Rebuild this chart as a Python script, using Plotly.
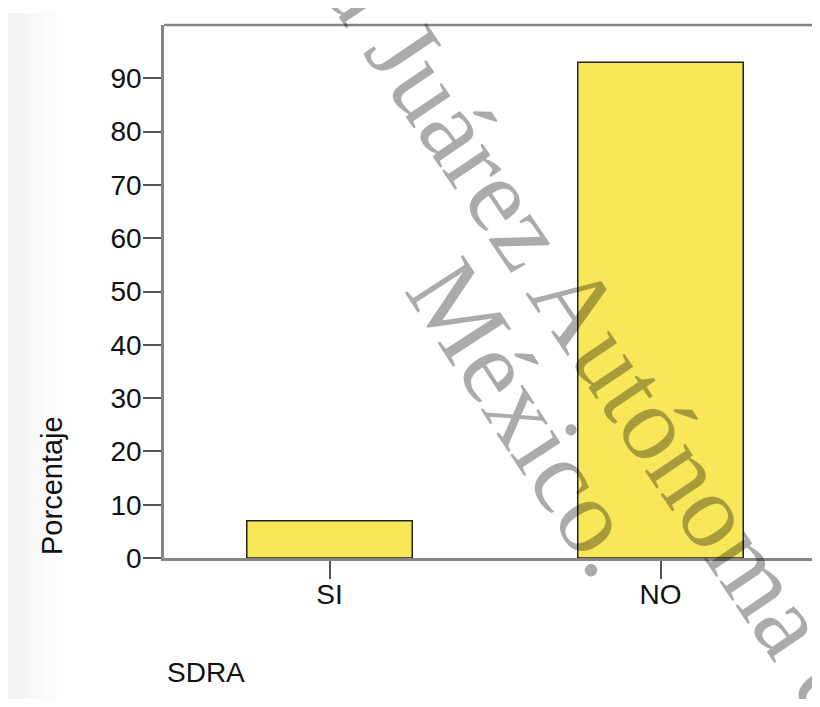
import plotly.graph_objects as go

categories = ["SI", "NO"]
percentages = [7.0, 93.0]
y_ticks = [0, 10, 20, 30, 40, 50, 60, 70, 80, 90]

OFF = 8  # page margin of the html body
W, H = 812, 691
L, R, T = 164 - OFF, 0, 25 - OFF
PLOT_BOTTOM = 558 - OFF
B = H - PLOT_BOTTOM
PW, PH = W - L - R, PLOT_BOTTOM - T

def px_x(ref_px):
    return (ref_px - OFF - L) / PW

def px_y(ref_py):
    return (PLOT_BOTTOM - (ref_py - OFF)) / PH

fig = go.Figure()
fig.add_trace(go.Bar(
    x=categories, y=percentages, width=0.5,
    marker=dict(color="#f9e75a", line=dict(color="#222222", width=1.5)),
    hoverinfo="skip",
))

font = "Liberation Sans, Arial, Helvetica, sans-serif"
serif = "Liberation Serif, Times New Roman, serif"
wm_color = "rgba(0,0,0,0.33)"

shapes = []
# faint left-side gradient of the page
for i in range(8):
    shapes.append(dict(type="rect", xref="paper", yref="paper",
                       x0=px_x(8 + i * 7), x1=px_x(8 + (i + 1) * 7),
                       y0=px_y(720), y1=px_y(13), line=dict(width=0),
                       fillcolor="rgba(0,0,0,%.4f)" % (0.045 * (1 - i / 8)), layer="below"))
# top frame line
shapes.append(dict(type="line", xref="paper", yref="paper", x0=0, x1=1.02, y0=1, y1=1,
                   line=dict(color="#858585", width=2.5)))

annotations = [
    dict(text="Porcentaje", xref="paper", yref="paper", x=px_x(52), y=px_y(485),
         xanchor="center", yanchor="middle",
         textangle=-90, showarrow=False, font=dict(family=font, size=29, color="#111111")),
    dict(text="SDRA", xref="paper", yref="paper", x=px_x(165), y=px_y(672),
         xanchor="left", yanchor="middle", showarrow=False,
         font=dict(family=font, size=28, color="#111111")),
    dict(text="Universidad Juárez Autónoma de Tabasco", xref="paper", yref="paper",
         x=px_x(585), y=px_y(318), xanchor="center", yanchor="middle",
         textangle=56, showarrow=False,
         font=dict(family=serif, size=106, color=wm_color)),
    dict(text="México.", xref="paper", yref="paper",
         x=px_x(528), y=px_y(418), xanchor="center", yanchor="middle",
         textangle=57, showarrow=False,
         font=dict(family=serif, size=106, color=wm_color)),
]

fig.update_layout(
    width=W, height=H,
    margin=dict(l=L, r=R, t=T, b=B, pad=0),
    paper_bgcolor="white", plot_bgcolor="white",
    showlegend=False,
    shapes=shapes,
    annotations=annotations,
    xaxis=dict(type="category", categoryorder="array", categoryarray=categories,
               range=[-0.5, -0.5 + PW / 331.0],
               showline=True, linecolor="#858585", linewidth=2.5,
               ticks="outside", ticklen=18, tickwidth=2, tickcolor="#555555",
               ticklabelstandoff=-8,
               showgrid=False, zeroline=False,
               tickfont=dict(family=font, size=28, color="#111111")),
    yaxis=dict(range=[0, 100], tickvals=y_ticks,
               showline=True, linecolor="#858585", linewidth=2.5,
               ticks="outside", ticklen=18, tickwidth=2, tickcolor="#555555",
               ticklabelstandoff=-4,
               showgrid=False, zeroline=False,
               tickfont=dict(family=font, size=28, color="#111111")),
)

fig.write_html("out.html")
